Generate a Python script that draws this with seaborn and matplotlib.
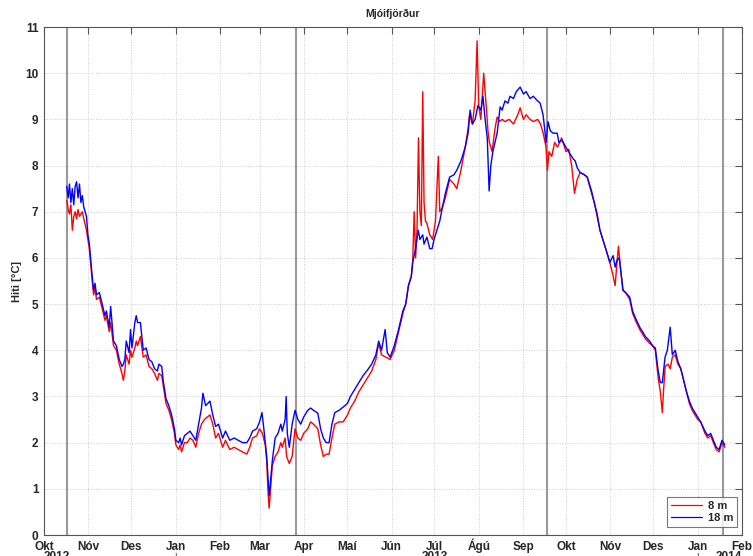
import matplotlib
matplotlib.use("Agg")
import matplotlib.pyplot as plt
import matplotlib.dates as mdates
import seaborn as sns
import numpy as np
import pandas as pd

start = pd.Timestamp("2012-10-01")

# 8 m series: days after 1 Oct 2012, temperature
days_8m = [15.9, 16.9, 17.8, 18.8, 19.8, 20.8, 21.8, 22.8, 23.8, 24.8, 26.8, 27.8, 29.7, 30.7, 31.7, 33.7, 34.7, 35.7, 36.7, 38.7,
           40.7, 42.6, 43.6, 45.6, 46.6, 48.6, 50.6, 52.6, 54.5, 55.5, 56.5, 57.5, 59.5, 60.5, 61.5, 63.5, 64.5, 65.4, 67.4, 69.4,
           71.4, 73.4, 75.4, 77.3, 79.3, 80.3, 82.3, 83.3, 85.3, 87.3, 89.2, 91.2, 92.2, 94.2, 95.2, 96.2, 98.2, 100.2, 102.1, 104.1,
           106.1, 108.1, 110.1, 112.1, 114.0, 116.0, 118.0, 120.0, 122.0, 124.9, 126.9, 129.9, 132.9, 135.8, 138.8, 141.8, 143.8, 145.8, 148.7, 150.7,
           152.7, 154.7, 155.7, 156.7, 157.4, 158.2, 159.6, 161.6, 163.6, 165.6, 166.6, 168.6, 169.6, 171.5, 173.5, 175.5, 177.5, 179.5, 181.5, 184.4,
           186.4, 188.4, 191.4, 193.4, 195.3, 197.3, 199.3, 201.3, 203.3, 206.3, 209.2, 212.2, 214.2, 217.2, 220.1, 223.1, 226.1, 229.1, 232.0, 234.0,
           236.0, 239.0, 242.0, 244.9, 247.9, 250.9, 252.9, 254.8, 256.8, 257.8, 258.8, 259.8, 260.8, 261.8, 262.8, 263.8, 264.8, 265.7, 266.7, 267.7,
           269.7, 271.7, 273.7, 275.7, 276.7, 278.6, 280.6, 283.6, 286.6, 288.6, 291.5, 294.5, 296.5, 297.5, 299.5, 301.4, 302.8, 303.9, 305.4, 307.4,
           309.4, 310.4, 311.4, 313.3, 315.3, 316.8, 318.3, 320.3, 322.3, 325.2, 328.2, 331.2, 332.9, 335.2, 337.1, 339.8, 342.1, 345.1, 347.1, 349.0,
           351.0, 352.0, 353.0, 355.0, 357.0, 359.0, 361.9, 364.9, 366.9, 368.9, 370.9, 372.8, 374.8, 377.8, 379.8, 382.8, 384.7, 386.7, 388.7, 391.7,
           393.7, 395.6, 397.6, 399.3, 400.6, 401.6, 403.6, 404.6, 406.6, 409.5, 411.5, 413.5, 416.5, 418.5, 420.4, 423.4, 425.4, 427.4, 429.4, 430.9,
           432.3, 433.3, 434.3, 436.3, 437.8, 439.3, 441.3, 443.2, 445.2, 447.2, 449.2, 451.2, 453.2, 455.1, 457.1, 459.1, 462.1, 464.1, 466.1, 468.0,
           470.0, 472.0, 474.0, 476.0]
temp_8m = [7.25, 7.05, 6.95, 7.15, 6.6, 6.9, 7.0, 6.85, 7.05, 6.9, 7.0, 6.85, 6.6, 6.4, 6.2, 5.5, 5.2, 5.35, 5.1, 5.15,
           4.9, 4.65, 4.75, 4.4, 4.6, 4.1, 4.0, 3.7, 3.5, 3.35, 3.55, 3.9, 3.7, 4.0, 3.85, 4.05, 4.2, 4.1, 4.3, 3.85,
           3.9, 3.65, 3.6, 3.5, 3.35, 3.5, 3.45, 3.25, 2.85, 2.7, 2.5, 2.2, 1.95, 1.85, 1.95, 1.8, 2.0, 2.0, 2.1, 2.05,
           1.9, 2.2, 2.4, 2.5, 2.55, 2.6, 2.4, 2.1, 2.2, 1.9, 2.05, 1.85, 1.9, 1.85, 1.8, 1.75, 1.9, 2.1, 2.15, 2.3,
           2.2, 1.95, 1.6, 0.9, 0.58, 0.9, 1.5, 1.7, 1.8, 2.0, 1.9, 2.1, 1.7, 1.55, 1.7, 2.3, 2.1, 2.05, 2.2, 2.3,
           2.45, 2.4, 2.3, 1.95, 1.7, 1.75, 1.75, 2.1, 2.4, 2.45, 2.45, 2.6, 2.75, 2.9, 3.1, 3.25, 3.4, 3.55, 3.8, 4.15,
           3.9, 3.85, 3.8, 4.0, 4.4, 4.8, 5.0, 5.4, 5.6, 5.95, 7.0, 6.0, 6.6, 8.6, 7.0, 6.7, 9.6, 7.2, 6.8, 6.75,
           6.5, 6.4, 6.8, 8.2, 7.0, 7.1, 7.3, 7.7, 7.6, 7.5, 7.9, 8.4, 8.8, 9.1, 8.9, 9.4, 10.7, 9.3, 9.0, 10.0,
           9.2, 8.75, 8.5, 8.3, 8.8, 9.05, 8.95, 9.0, 8.95, 9.0, 8.9, 9.1, 9.25, 9.0, 9.1, 9.0, 8.95, 9.0, 8.9, 8.7,
           8.4, 7.9, 8.3, 8.2, 8.5, 8.4, 8.6, 8.3, 8.35, 8.0, 7.4, 7.7, 7.85, 7.8, 7.75, 7.4, 7.2, 6.9, 6.6, 6.3,
           6.1, 5.9, 5.65, 5.4, 5.9, 6.25, 5.6, 5.3, 5.25, 5.1, 4.8, 4.65, 4.45, 4.35, 4.25, 4.15, 4.1, 4.0, 3.4, 3.1,
           2.65, 3.2, 3.65, 3.7, 3.6, 3.85, 3.9, 3.7, 3.6, 3.35, 3.1, 2.85, 2.7, 2.6, 2.5, 2.45, 2.2, 2.1, 2.15, 2.0,
           1.85, 1.8, 2.0, 1.9]

# 18 m series
days_18m = [15.9, 16.9, 17.8, 18.8, 19.8, 20.8, 21.8, 22.8, 23.8, 24.8, 25.8, 26.8, 27.8, 29.7, 30.7, 31.7, 33.7, 34.7, 35.7, 36.7,
            38.7, 40.7, 42.6, 43.6, 45.6, 46.6, 48.6, 50.6, 52.6, 54.5, 55.5, 56.5, 57.5, 59.5, 60.5, 61.5, 63.5, 64.5, 65.4, 67.4,
            69.4, 71.4, 73.4, 75.4, 77.3, 79.3, 80.3, 82.3, 83.3, 85.3, 87.3, 89.2, 91.2, 92.2, 94.2, 95.2, 96.2, 98.2, 100.2, 102.1,
            104.1, 106.1, 108.1, 110.1, 111.1, 113.0, 116.0, 118.0, 120.0, 122.0, 124.9, 126.9, 129.9, 132.9, 135.8, 138.8, 141.8, 143.8, 145.8, 148.7,
            150.7, 152.4, 153.7, 154.7, 155.7, 156.7, 157.4, 158.2, 159.6, 161.6, 163.6, 165.6, 166.6, 168.6, 169.3, 170.1, 171.5, 173.5, 175.5, 177.5,
            179.5, 181.5, 184.4, 186.4, 188.4, 191.4, 193.4, 195.3, 197.3, 199.3, 201.3, 203.3, 206.3, 209.2, 212.2, 214.2, 217.2, 220.1, 223.1, 226.1,
            229.1, 232.0, 234.0, 236.0, 238.5, 240.0, 242.0, 244.9, 247.9, 250.9, 252.9, 254.8, 256.8, 257.8, 259.8, 261.6, 262.8, 264.8, 265.7, 267.7,
            269.7, 271.3, 272.7, 274.7, 276.7, 278.6, 280.6, 283.6, 286.6, 288.6, 291.5, 294.5, 296.5, 297.9, 299.5, 301.4, 303.4, 305.4, 306.9, 308.4,
            309.9, 311.2, 312.4, 313.8, 315.3, 316.8, 318.9, 320.3, 322.3, 324.3, 325.8, 328.2, 330.2, 332.9, 335.2, 337.1, 339.8, 342.1, 345.1, 346.9,
            348.9, 350.0, 351.0, 352.4, 354.0, 356.0, 358.8, 360.0, 362.2, 363.9, 367.8, 369.9, 371.4, 372.8, 374.8, 377.8, 379.8, 382.8, 384.7, 386.7,
            388.7, 391.7, 393.7, 395.6, 397.9, 399.3, 400.6, 402.1, 404.9, 406.6, 409.5, 411.5, 413.5, 416.5, 418.5, 420.4, 423.4, 425.4, 427.4, 429.4,
            430.9, 432.3, 434.2, 435.8, 437.8, 439.3, 441.3, 443.2, 445.2, 447.2, 449.2, 451.2, 453.2, 455.1, 457.1, 459.1, 462.1, 464.1, 466.1, 468.0,
            470.0, 472.0, 474.0, 476.0]
temp_18m = [7.55, 7.3, 7.6, 7.2, 7.5, 7.15, 7.55, 7.65, 7.3, 7.6, 7.2, 7.35, 7.1, 6.9, 6.5, 6.3, 5.6, 5.3, 5.45, 5.2,
            5.25, 5.0, 4.75, 4.85, 4.5, 4.95, 4.2, 4.1, 3.8, 3.65, 3.7, 3.8, 4.2, 3.95, 4.45, 4.05, 4.6, 4.75, 4.6, 4.6,
            4.0, 4.05, 3.8, 3.75, 3.6, 3.55, 3.7, 3.65, 3.35, 2.95, 2.8, 2.6, 2.3, 2.05, 2.0, 2.1, 1.95, 2.15, 2.2, 2.25,
            2.15, 2.05, 2.4, 2.75, 3.07, 2.8, 2.9, 2.6, 2.35, 2.4, 2.1, 2.25, 2.05, 2.1, 2.05, 2.0, 2.0, 2.1, 2.25, 2.3,
            2.45, 2.65, 2.3, 2.0, 1.7, 1.2, 0.85, 1.1, 1.6, 2.1, 2.2, 2.4, 2.25, 2.5, 3.0, 2.2, 1.9, 2.4, 2.7, 2.5,
            2.4, 2.55, 2.7, 2.75, 2.7, 2.64, 2.3, 2.1, 2.0, 2.0, 2.4, 2.65, 2.7, 2.77, 2.85, 3.0, 3.15, 3.3, 3.45, 3.57,
            3.7, 3.9, 4.2, 4.0, 4.45, 3.95, 3.85, 4.1, 4.45, 4.85, 5.0, 5.4, 5.6, 5.9, 6.2, 6.6, 6.4, 6.5, 6.3, 6.45,
            6.2, 6.2, 6.4, 6.6, 6.8, 7.1, 7.4, 7.75, 7.8, 7.9, 8.1, 8.4, 8.7, 9.2, 8.9, 9.0, 9.3, 9.2, 9.5, 9.0,
            8.6, 7.45, 8.0, 8.3, 8.5, 8.7, 9.27, 9.2, 9.4, 9.35, 9.5, 9.45, 9.6, 9.7, 9.55, 9.6, 9.45, 9.5, 9.4, 9.35,
            9.1, 8.8, 8.5, 8.95, 8.75, 8.7, 8.7, 8.5, 8.55, 8.45, 8.25, 8.15, 8.1, 7.95, 7.85, 7.8, 7.75, 7.45, 7.2, 6.95,
            6.6, 6.3, 6.1, 5.9, 6.05, 5.8, 5.95, 6.0, 5.3, 5.25, 5.15, 4.85, 4.7, 4.5, 4.4, 4.3, 4.2, 4.1, 4.05, 3.55,
            3.3, 3.3, 3.85, 4.0, 4.5, 3.9, 4.0, 3.75, 3.6, 3.35, 3.1, 2.9, 2.75, 2.65, 2.55, 2.45, 2.25, 2.15, 2.2, 2.05,
            1.9, 1.85, 2.05, 1.95]

# instrument service dates (vertical grey lines)
service_dates = ["2012-10-17", "2013-03-26", "2013-09-18", "2014-01-19"]

month_labels = ["Okt", "Nóv", "Des", "Jan", "Feb", "Mar", "Apr", "Maí", "Jún", "Júl", "Ágú", "Sep",
                "Okt", "Nóv", "Des", "Jan", "Feb"]
year_labels = ["2012", "2013", "2014"]
year_pos = ["2012-10-10", "2013-07-01", "2014-01-23"]
new_year = ["2013-01-01", "2014-01-01"]

df = pd.concat([
    pd.DataFrame({"date": start + pd.to_timedelta(days_8m, unit="D"), "temp": temp_8m, "depth": "8 m"}),
    pd.DataFrame({"date": start + pd.to_timedelta(days_18m, unit="D"), "temp": temp_18m, "depth": "18 m"}),
])

sns.set_style("white")
plt.rcParams["font.family"] = ["Liberation Sans", "DejaVu Sans"]

fig = plt.figure(figsize=(7.53, 5.56), dpi=100)
ax = fig.add_axes([44 / 753, 21 / 556, 698 / 753, 508 / 556])

for d in service_dates:
    ax.axvline(pd.Timestamp(d), color="#999999", lw=1.5, zorder=1)

sns.lineplot(data=df, x="date", y="temp", hue="depth", palette={"8 m": "#ff0000", "18 m": "#0000ff"},
             estimator=None, sort=False, lw=1.0, ax=ax, legend=False, zorder=3)

ax.set_xlim(pd.Timestamp("2012-10-01"), pd.Timestamp("2014-02-01"))
ax.set_ylim(0, 11)
ax.set_yticks(range(0, 12))
ax.xaxis.set_major_locator(mdates.MonthLocator())
ax.set_xticks(ax.get_xticks())
ax.set_xticklabels(month_labels)
ax.grid(True, color="#cccccc", linestyle=":", linewidth=0.7)
ax.tick_params(direction="in", length=5, top=True, right=True, labelsize=8.5, color="#555555")
ax.tick_params(axis="x", pad=10.5)
ax.tick_params(axis="y", pad=4)
for lab in ax.get_xticklabels():
    lab.set_fontweight("bold")
    lab.set_verticalalignment("baseline")
for lab in ax.get_yticklabels():
    lab.set_fontweight("bold")
for s in ax.spines.values():
    s.set_color("#555555")
    s.set_linewidth(0.8)

trans = ax.get_xaxis_transform()
for lab, pos in zip(year_labels, year_pos):
    ax.text(pd.Timestamp(pos), -0.044, lab, transform=trans, ha="center", va="center",
            fontsize=8.5, fontweight="bold", clip_on=False)
for pos in new_year:
    ax.text(pd.Timestamp(pos), -0.046, "|", transform=trans, ha="center", va="center",
            fontsize=7, clip_on=False)

ax.set_xlabel("")
ax.set_ylabel("Hiti [°C]", fontsize=8, fontweight="bold", labelpad=2)
ax.set_title("Mjóifjörður", fontsize=7.5, fontweight="bold", pad=7)

handles = [plt.Line2D([], [], color="#ff0000", lw=0.9), plt.Line2D([], [], color="#0000ff", lw=0.9)]
leg = ax.legend(handles, ["8 m", "18 m"], loc="lower right", fontsize=8, handlelength=2.8,
                frameon=True, fancybox=False, borderpad=0.35, labelspacing=0.15, handletextpad=0.5,
                borderaxespad=0, bbox_to_anchor=(0.993, 0.016))
leg.get_frame().set_edgecolor("#555555")
leg.get_frame().set_linewidth(0.8)
for t in leg.get_texts():
    t.set_fontweight("bold")

fig.savefig("out.png", dpi=100)
